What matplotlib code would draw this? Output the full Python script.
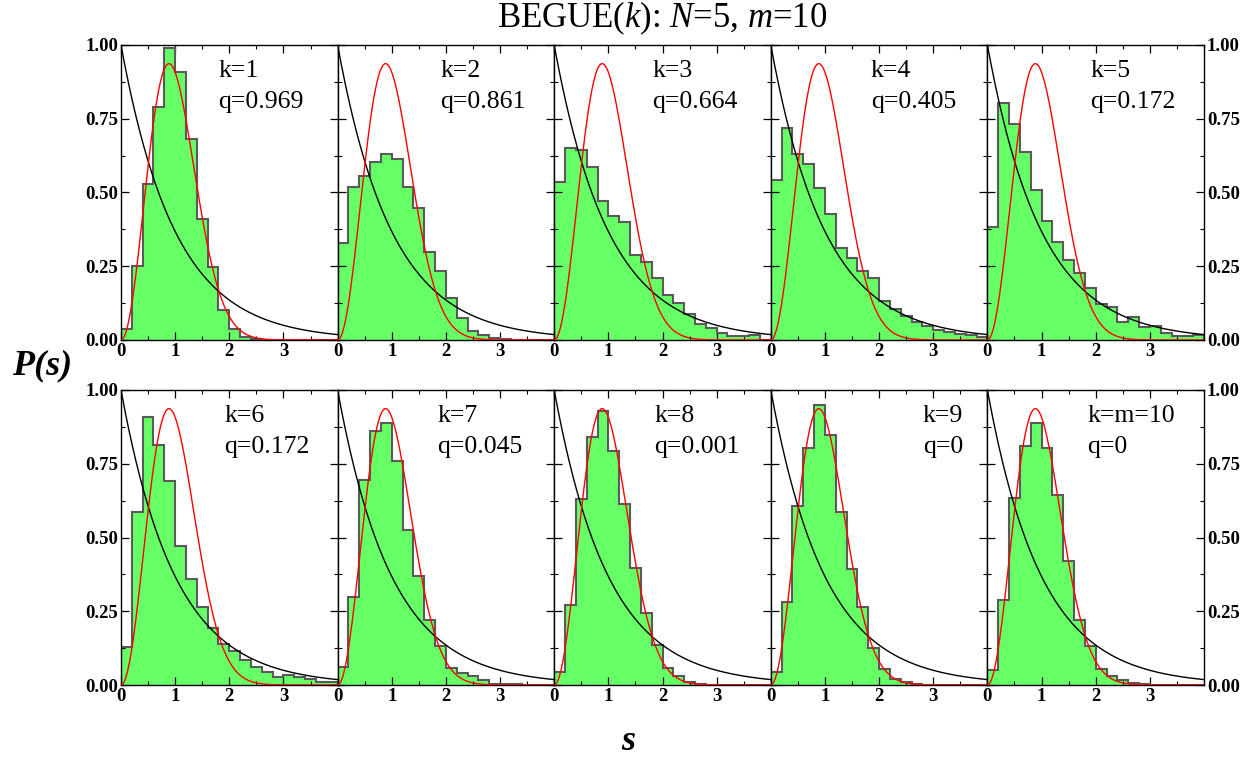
import numpy as np
import matplotlib
matplotlib.use("Agg")
import matplotlib.pyplot as plt
from matplotlib.ticker import MultipleLocator

plt.rcParams['font.family'] = ['Liberation Serif', 'DejaVu Serif']
plt.rcParams['mathtext.fontset'] = 'custom'
plt.rcParams['mathtext.rm'] = 'Liberation Serif'
plt.rcParams['mathtext.it'] = 'Liberation Serif:italic'
plt.rcParams['mathtext.bf'] = 'Liberation Serif:bold'

# ---------------- data ----------------
bin_width = 0.2
k_labels = ["k=1", "k=2", "k=3", "k=4", "k=5", "k=6", "k=7", "k=8", "k=9", "k=m=10"]
q_labels = ["q=0.969", "q=0.861", "q=0.664", "q=0.405", "q=0.172",
            "q=0.172", "q=0.045", "q=0.001", "q=0", "q=0"]

hist_k1 = [0.038, 0.25, 0.53, 0.79, 0.99, 0.91, 0.68, 0.41, 0.246, 0.10, 0.038, 0.011, 0.002,
           0, 0, 0, 0, 0, 0, 0]
hist_k2 = [0.33, 0.52, 0.557, 0.603, 0.629, 0.614, 0.52, 0.449, 0.297, 0.234, 0.141, 0.073, 0.03,
           0.017, 0.008, 0.003, 0.001, 0, 0, 0]
hist_k3 = [0.537, 0.65, 0.644, 0.588, 0.471, 0.421, 0.399, 0.288, 0.266, 0.211, 0.153, 0.124,
           0.087, 0.054, 0.04, 0.025, 0.014, 0.014, 0.016, 0]
hist_k4 = [0.542, 0.72, 0.63, 0.597, 0.514, 0.426, 0.311, 0.277, 0.235, 0.211, 0.133, 0.104,
           0.081, 0.062, 0.047, 0.034, 0.026, 0.02, 0.016, 0.011]
hist_k5 = [0.382, 0.802, 0.732, 0.636, 0.508, 0.403, 0.331, 0.271, 0.228, 0.175, 0.122, 0.113,
           0.062, 0.077, 0.043, 0.047, 0.023, 0.015, 0.015, 0.017]
hist_k6 = [0.13, 0.585, 0.909, 0.815, 0.691, 0.472, 0.359, 0.264, 0.194, 0.139, 0.114, 0.085,
           0.062, 0.045, 0.028, 0.035, 0.028, 0.02, 0.009, 0.009]
hist_k7 = [0.062, 0.298, 0.694, 0.862, 0.889, 0.76, 0.524, 0.369, 0.222, 0.131, 0.058, 0.04,
           0.032, 0.018, 0.003, 0.002, 0.002, 0.001, 0, 0]
hist_k8 = [0.043, 0.272, 0.63, 0.841, 0.929, 0.794, 0.613, 0.397, 0.245, 0.136, 0.058, 0.029,
           0.009, 0.003, 0.001, 0, 0, 0, 0, 0]
hist_k9 = [0.045, 0.281, 0.607, 0.804, 0.949, 0.847, 0.587, 0.394, 0.264, 0.126, 0.054, 0.02,
           0.009, 0.003, 0.001, 0, 0, 0, 0, 0]
hist_k10 = [0.051, 0.287, 0.634, 0.811, 0.887, 0.802, 0.643, 0.422, 0.221, 0.131, 0.054, 0.032,
            0.017, 0.007, 0.002, 0, 0, 0, 0, 0]
hists = [hist_k1, hist_k2, hist_k3, hist_k4, hist_k5,
         hist_k6, hist_k7, hist_k8, hist_k9, hist_k10]

y_ticks = [0.0, 0.25, 0.5, 0.75, 1.0]
y_ticklabels = ["0.00", "0.25", "0.50", "0.75", "1.00"]
x_ticks = [0, 1, 2, 3]

# label x-positions (data coords) per panel
label_x = [1.8, 1.9, 1.81, 1.85, 1.9, 1.91, 1.84, 1.85, 2.81, 1.85]

# theoretical curves
s = np.linspace(0, 4, 400)
gue = (32 / np.pi**2) * s**2 * np.exp(-4 * s**2 / np.pi)
poisson = np.exp(-s)

# ---------------- figure ----------------
fig = plt.figure(figsize=(12.56, 7.59), dpi=100)
left, right = 121 / 1256, 1204 / 1256
row_tops = [1 - 45 / 759, 1 - 390 / 759]
row_h = 295 / 759
pw = (right - left) / 5

green = '#66FF66'
edge = '#5a5a5a'
tick_fs = 13.5

for i in range(10):
    r, c = divmod(i, 5)
    ax = fig.add_axes([left + c * pw, row_tops[r] - row_h, pw, row_h])
    h = np.array(hists[i])
    edges = np.arange(len(h) + 1) * bin_width
    ax.stairs(h, edges, fill=True, color=green, lw=0, zorder=1)
    ax.stairs(h, edges, baseline=0, color=edge, lw=1.5, zorder=2)
    ax.plot(s, poisson, color='black', lw=1.0, zorder=3)
    ax.plot(s, gue, color='red', lw=1.0, zorder=4)
    ax.set_xlim(0, 4)
    ax.set_ylim(0, 1)
    ax.set_xticks(x_ticks)
    ax.set_xticklabels([str(t) for t in x_ticks], fontweight='bold', fontsize=tick_fs)
    ax.xaxis.set_minor_locator(MultipleLocator(0.5))
    ax.set_yticks(y_ticks)
    ax.yaxis.set_minor_locator(MultipleLocator(0.125))
    ax.tick_params(which='both', direction='in', top=True, right=True, bottom=True, left=True)
    ax.tick_params(which='major', length=6, width=0.9, pad=2)
    ax.tick_params(which='minor', length=3, width=0.8)
    if c == 0:
        ax.set_yticklabels(y_ticklabels, fontweight='bold', fontsize=tick_fs)
    elif c == 4:
        ax.tick_params(labelleft=False, labelright=True)
        ax.set_yticklabels(y_ticklabels, fontweight='bold', fontsize=tick_fs)
    else:
        ax.set_yticklabels([])
    for sp in ax.spines.values():
        sp.set_linewidth(1.0)
    ax.text(label_x[i], 0.89, k_labels[i], fontsize=18.5, ha='left', va='baseline')
    ax.text(label_x[i], 0.785, q_labels[i], fontsize=18.5, ha='left', va='baseline')

fig.text((left + right) / 2, 1 - 27 / 759, r"BEGUE($k$): $N$=5, $m$=10",
         ha='center', va='baseline', fontsize=25)
fig.text(42 / 1256, 1 - 366 / 759, "P(s)", ha='center', va='center',
         fontsize=26, fontweight='bold', fontstyle='italic')
fig.text(628 / 1256, 1 - 742 / 759, "s", ha='center', va='center',
         fontsize=26, fontweight='bold', fontstyle='italic')

fig.savefig("out.png", dpi=100)
